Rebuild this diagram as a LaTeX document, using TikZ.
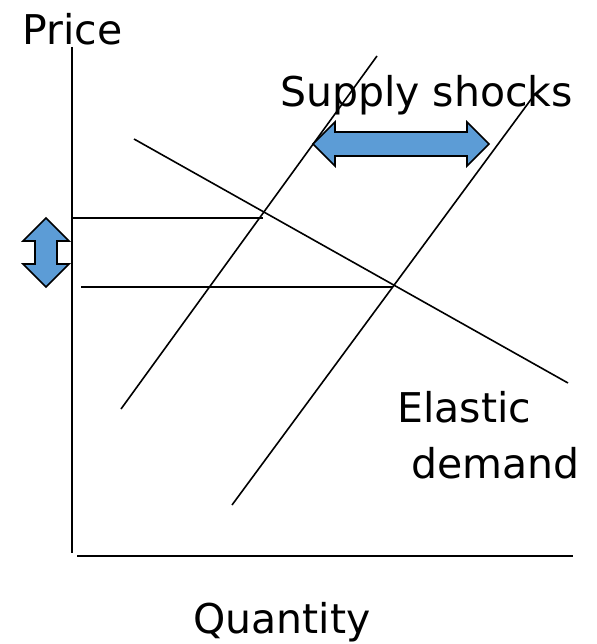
\documentclass[tikz,border=0pt]{standalone}
\usepackage{fontspec}
\setmainfont{DejaVu Sans}
\usepackage{tikz}
\definecolor{shockblue}{rgb}{0.36,0.61,0.84}

\begin{document}
\begin{tikzpicture}[
    x=1pt, y=-1pt,
    axis/.style={line width=2.3pt},
    curve/.style={line width=1.6pt},
    shock/.style={draw=black, line width=1.6pt, fill=shockblue, line join=miter},
    txt/.style={inner sep=0pt, anchor=base west, font=\fontsize{41}{56}\selectfont}
]
    \useasboundingbox (0,0) rectangle (596,644);

    % axes
    \coordinate (ytop) at (72,47);
    \coordinate (ybot) at (72,553);
    \coordinate (xleft) at (77,556);
    \coordinate (xright) at (573,556);
    \draw[axis] (ytop) -- (ybot);
    \draw[axis] (xleft) -- (xright);

    % demand and the two supply curves
    \coordinate (d1) at (134,139);
    \coordinate (d2) at (568,383);
    \coordinate (s1low) at (121,409);
    \coordinate (s1high) at (377,56);
    \coordinate (s2low) at (232,505);
    \coordinate (s2high) at (535,94);
    \draw[curve] (d1) -- (d2);
    \draw[curve] (s1low) -- (s1high);
    \draw[curve] (s2low) -- (s2high);

    % price levels
    \coordinate (p1a) at (72,218);
    \coordinate (p1b) at (263,218);
    \coordinate (p2a) at (81,287);
    \coordinate (p2b) at (393,287);
    \draw[curve] (p1a) -- (p1b);
    \draw[curve] (p2a) -- (p2b);

    % shock arrows
    \draw[shock] (313,144) -- (335,122) -- (335,132) -- (467,132) -- (467,122)
        -- (489,144) -- (467,166) -- (467,156) -- (335,156) -- (335,166) -- cycle;
    \draw[shock] (46,218) -- (69,241) -- (57,241) -- (57,264) -- (69,264)
        -- (46,287) -- (23,264) -- (35,264) -- (35,241) -- (23,241) -- cycle;

    % labels
    \node[txt] (price) at (22,45) {Price};
    \node[txt] (shocks) at (280,107) {Supply shocks};
    \node[txt, align=left] (elastic) at (397,478) {Elastic\\\hspace*{14pt}demand};
    \node[txt] (quantity) at (193,633) {Quantity};
\end{tikzpicture}
\end{document}
